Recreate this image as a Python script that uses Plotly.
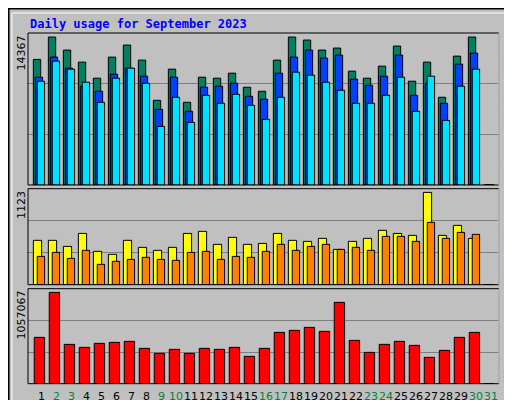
import plotly.graph_objects as go

days = list(range(1, 32))
hits = [11867,13987,12753,11614,10095,12088,13228,11804,8006,10949,7816,10190,10095,10569,9240,8861,11804,13987,13702,12753,12943,10759,10095,11234,13133,9810,11614,8291,12183,13987,0]
files = [10190,12088,11044,9335,8861,10475,11044,10285,7152,10190,6962,9240,9335,9620,8386,8101,10569,12088,12753,11993,12278,10000,9430,10285,12278,8481,9620,7721,11424,12468,0]
pages = [9810,11709,10949,9715,7816,10095,11044,9620,5538,8291,5918,8481,7721,8576,7532,6202,8291,10664,10380,9715,8956,7721,7721,8481,10190,6962,10285,6107,9335,10949,0]
visits = [519,519,448,600,390,355,519,437,402,437,600,624,472,554,472,483,600,519,507,542,413,507,542,636,600,577,1080,577,694,542,0]
sites = [331,378,308,402,238,273,296,320,296,285,378,390,296,331,320,390,472,402,448,472,413,437,402,565,565,507,729,542,612,589,0]
kbytes = [515551,1016266,437662,404281,448789,459916,471043,393154,337519,382027,337519,393154,382027,404281,304138,393154,571186,593440,626821,582313,904996,482170,348646,437662,471043,426535,293011,370900,515551,571186,0]
weekend = [2,3,9,10,16,17,23,24,30,31]
max_top, max_mid, max_bot = 14367, 1123, 1057067

fig = go.Figure()
line = dict(color="black", width=1)
def bar(y, color, off, w, ax):
    fig.add_trace(go.Bar(x=days, y=y, marker=dict(color=color, line=line), offset=off, width=w,
                         xaxis=ax[0], yaxis=ax[1], showlegend=False, hoverinfo="skip"))
bar(hits, "#008060", -0.51, 0.49, ("x", "y"))
bar(files, "#0040FF", -0.38, 0.49, ("x", "y"))
bar(pages, "#00E0FF", -0.25, 0.49, ("x", "y"))
bar(visits, "#FFFF00", -0.51, 0.55, ("x2", "y2"))
bar(sites, "#FF8000", -0.25, 0.49, ("x2", "y2"))
bar(kbytes, "#FF0000", -0.45, 0.69, ("x3", "y3"))

xr = [1 - 13/15, 1 - 13/15 + 471/15]
xd = [20/512, 491/512]
common_x = dict(range=xr, domain=xd, showgrid=False, zeroline=False, showline=False, fixedrange=True,
                showticklabels=False, ticks="", automargin=False)
fig.update_layout(
    width=512, height=400, margin=dict(l=0, r=0, t=0, b=0, autoexpand=False),
    paper_bgcolor="#C0C0C0", plot_bgcolor="#C0C0C0", barmode="overlay",
    xaxis=dict(**common_x, anchor="y"),
    xaxis2=dict(**common_x, anchor="y2"),
    xaxis3=dict(**common_x, anchor="y3"),
    yaxis=dict(domain=[1-177/400, 1-25/400], range=[0, max_top], dtick=max_top/3, anchor="x"),
    yaxis2=dict(domain=[1-276.7/400, 1-180.7/400], range=[0, max_mid], dtick=max_mid/3, anchor="x2"),
    yaxis3=dict(domain=[1-375.7/400, 1-280.7/400], range=[0, max_bot], dtick=max_bot/3, anchor="x3"),
    font=dict(family="DejaVu Sans Mono", size=11),
)
for ya in ["yaxis", "yaxis2", "yaxis3"]:
    fig.layout[ya].update(showticklabels=False, gridcolor="#808080", gridwidth=1, zeroline=False,
                          fixedrange=True, automargin=False, ticks="")

shapes = [
    dict(type="rect", xref="paper", yref="paper", x0=0.001, x1=0.999, y0=0.0015, y1=0.9985, line=dict(color="black", width=2)),
    dict(type="line", xref="paper", yref="paper", x0=4/512, x1=507/512, y0=1-5/400, y1=1-5/400, line=dict(color="white", width=1)),
    dict(type="line", xref="paper", yref="paper", x0=4/512, x1=4/512, y0=1-5/400, y1=6/400, line=dict(color="white", width=1)),
    dict(type="line", xref="paper", yref="paper", x0=507/512, x1=507/512, y0=1-5/400, y1=6/400, line=dict(color="#808080", width=1)),
    dict(type="line", xref="paper", yref="paper", x0=4/512, x1=507/512, y0=6/400, y1=6/400, line=dict(color="#808080", width=1)),
]
for y0, y1 in [(177, 25), (276.7, 180.7), (375.7, 280.7)]:
    shapes.append(dict(type="rect", xref="paper", yref="paper", x0=xd[0], x1=xd[1], y0=1-y0/400, y1=1-y1/400,
                       line=dict(color="black", width=1)))
    shapes.append(dict(type="line", xref="paper", yref="paper", x0=xd[1], x1=xd[1], y0=1-y0/400, y1=1-y1/400,
                       line=dict(color="white", width=1)))
fig.update_layout(shapes=shapes)

ann = [
    dict(xref="paper", yref="paper", x=20/512, y=1-16/400, text="<b>Daily usage for September 2023</b>", xanchor="left", yanchor="middle",
         font=dict(color="#0000FF", size=12, family="DejaVu Sans Mono")),
    dict(xref="paper", yref="paper", x=13/512, y=1-26/400, text="14367", textangle=-90, yanchor="top", xanchor="center", font=dict(color="black", size=11, family="DejaVu Sans")),
    dict(xref="paper", yref="paper", x=13/512, y=1-181/400, text="1123", textangle=-90, yanchor="top", xanchor="center", font=dict(color="black", size=11, family="DejaVu Sans")),
    dict(xref="paper", yref="paper", x=13/512, y=1-281/400, text="1057067", textangle=-90, yanchor="top", xanchor="center", font=dict(color="black", size=11, family="DejaVu Sans")),
    dict(xref="paper", yref="paper", x=500/512, y=1-26/400, text="<span style='color:#00E0FF'>Pages</span> / <span style='color:#0040FF'>Files</span> / <span style='color:#008060'>Hits</span>",
         textangle=-90, yanchor="top", xanchor="center", font=dict(color="black", size=11)),
    dict(xref="paper", yref="paper", x=500/512, y=1-182/400, text="<span style='color:#FF8000'>Sites</span> / <span style='color:#FFFF00'>Visits</span>",
         textangle=-90, yanchor="top", xanchor="center", font=dict(color="black", size=11)),
    dict(xref="paper", yref="paper", x=500/512, y=1-376/400, text="<span style='color:#FF0000'>KBytes</span>",
         textangle=-90, yanchor="bottom", xanchor="center", font=dict(color="black", size=11)),
]
for d in days:
    ann.append(dict(xref="x3", yref="paper", x=d, y=1-388/400, text=str(d), xanchor="center", yanchor="middle",
                    font=dict(family="DejaVu Sans", size=11, color="#008040" if d in weekend else "black")))
for a in ann:
    a.update(showarrow=False)
fig.update_layout(annotations=ann)
fig.write_html("out.html")
